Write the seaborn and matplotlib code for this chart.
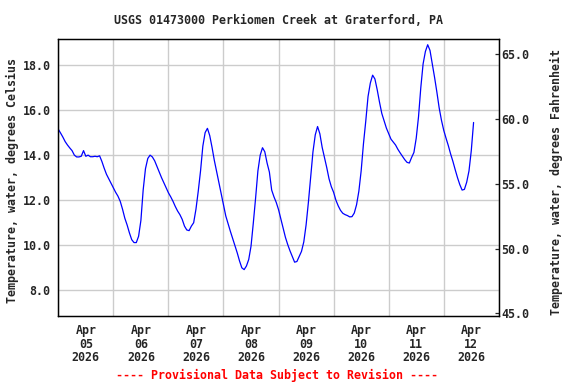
import matplotlib
matplotlib.use("Agg")
import matplotlib.pyplot as plt
import matplotlib.dates as mdates
from matplotlib.ticker import FormatStrFormatter
import seaborn as sns
import pandas as pd

# hourly water temperature readings (deg C), starting Apr 05 2026 00:00
temps_c = [
    15.15, 14.98, 14.80, 14.60, 14.45, 14.32, 14.20, 14.00, 13.92, 13.92, 13.95, 14.20,
    13.95, 14.00, 13.93, 13.93, 13.95, 13.93, 13.97, 13.72, 13.42, 13.15, 12.95, 12.76,
    12.55, 12.35, 12.18, 11.95, 11.60, 11.20, 10.90, 10.55, 10.25, 10.12, 10.12, 10.40,
    11.10, 12.46, 13.40, 13.85, 14.00, 13.92, 13.75, 13.50, 13.25, 13.00, 12.78, 12.55,
    12.33, 12.15, 11.95, 11.72, 11.52, 11.36, 11.15, 10.85, 10.68, 10.65, 10.85, 11.00,
    11.60, 12.40, 13.30, 14.40, 15.00, 15.19, 14.87, 14.35, 13.77, 13.28, 12.78, 12.28,
    11.80, 11.30, 10.96, 10.62, 10.30, 9.98, 9.66, 9.30, 9.00, 8.92, 9.08, 9.37,
    9.96, 10.99, 12.10, 13.30, 14.00, 14.33, 14.15, 13.65, 13.25, 12.45, 12.15, 11.90,
    11.58, 11.17, 10.75, 10.35, 10.03, 9.75, 9.50, 9.25, 9.28, 9.50, 9.73, 10.15,
    10.90, 11.90, 13.00, 14.15, 14.90, 15.27, 14.95, 14.35, 13.90, 13.45, 12.95, 12.60,
    12.35, 12.00, 11.75, 11.55, 11.42, 11.36, 11.32, 11.26, 11.27, 11.43, 11.80, 12.40,
    13.30, 14.50, 15.50, 16.60, 17.20, 17.55, 17.38, 16.90, 16.35, 15.85, 15.52, 15.20,
    14.95, 14.71, 14.58, 14.45, 14.26, 14.10, 13.95, 13.80, 13.68, 13.65, 13.90, 14.12,
    14.75, 15.70, 17.00, 18.05, 18.60, 18.90, 18.65, 18.05, 17.45, 16.80, 16.10, 15.55,
    15.10, 14.75, 14.42, 14.05, 13.72, 13.35, 13.00, 12.69, 12.45, 12.48, 12.80, 13.30,
    14.20, 15.45,
]
times = pd.date_range("2026-04-05 00:00", periods=len(temps_c), freq="h")

celsius_ticks = [8.0, 10.0, 12.0, 14.0, 16.0, 18.0]
fahrenheit_ticks = [45.0, 50.0, 55.0, 60.0, 65.0]

title = "USGS 01473000 Perkiomen Creek at Graterford, PA"
left_label = "Temperature, water, degrees Celsius"
right_label = "Temperature, water, degrees Fahrenheit"
footer = "---- Provisional Data Subject to Revision ----"

sns.set_style("white")
plt.rcParams["font.family"] = ["DejaVu Sans Mono"]
plt.rcParams["font.weight"] = "bold"
plt.rcParams["font.size"] = 8.4

fig = plt.figure(figsize=(5.76, 3.84), dpi=100)
ax = fig.add_axes([0.1012, 0.177, 0.7648, 0.7206])

sns.lineplot(x=times, y=temps_c, ax=ax, color="#0000ff", linewidth=0.9)

ax.set_xlim(pd.Timestamp("2026-04-05"), pd.Timestamp("2026-04-13"))
ax.set_ylim(6.86, 19.14)

# gridlines at midnight, date labels centred at noon
ax.xaxis.set_major_locator(mdates.DayLocator())
ax.xaxis.set_major_formatter(plt.NullFormatter())
ax.xaxis.set_minor_locator(mdates.HourLocator(byhour=12))
ax.xaxis.set_minor_formatter(mdates.DateFormatter("%b\n%d\n%Y"))
ax.tick_params(axis="x", which="both", length=0)
ax.tick_params(axis="x", which="minor", pad=6)
for lbl in ax.get_xticklabels(minor=True):
    lbl.set_linespacing(1.05)

ax.set_yticks(celsius_ticks)
ax.yaxis.set_major_formatter(FormatStrFormatter("%.1f"))
ax.tick_params(axis="y", length=0, pad=5.5)

ax.grid(True, which="major", color="#cccccc", linewidth=1.0)
ax.set_axisbelow(True)
for s in ax.spines.values():
    s.set_color("black")
    s.set_linewidth(0.9)

ax.set_xlabel("")
ax.set_ylabel(left_label, fontsize=8.4, fontweight="bold")
ax.yaxis.set_label_coords(-0.09, 0.49)

ax2 = ax.twinx()
ax2.set_ylim(44.79, 66.16)
ax2.set_yticks(fahrenheit_ticks)
ax2.yaxis.set_major_formatter(FormatStrFormatter("%.1f"))
ax2.tick_params(axis="y", direction="in", length=3, width=0.9, pad=1.5, right=True)
ax2.grid(False)
ax2.set_ylabel(right_label, fontsize=8.4, fontweight="bold")
ax2.yaxis.set_label_coords(1.117, 0.485)
for s in ax2.spines.values():
    s.set_color("black")
    s.set_linewidth(0.9)

ax.set_title(title, fontsize=8.4, fontweight="bold", pad=11)
fig.text(0.481, 0.023, footer, color="#ff0000", fontsize=8.4,
         fontweight="bold", ha="center", va="center")

fig.savefig("out.png", dpi=100)
